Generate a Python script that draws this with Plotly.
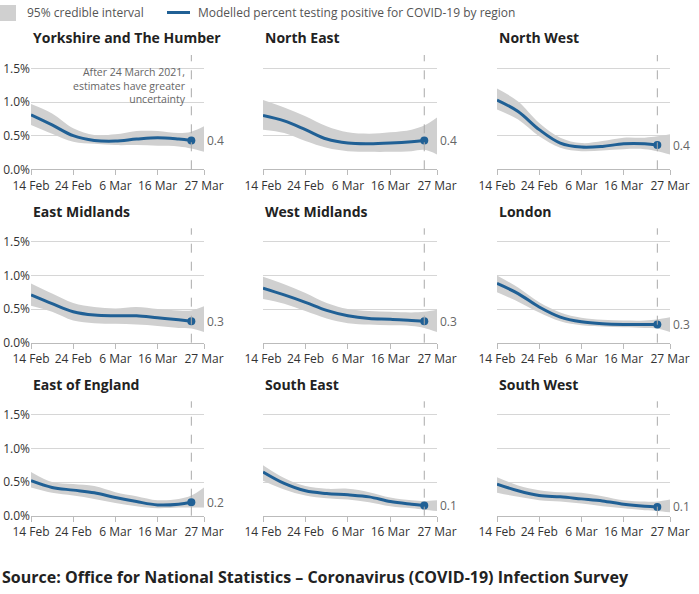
import plotly.graph_objects as go

W, H = 699, 594

dates = ["2021-02-14", "2021-02-19", "2021-02-24", "2021-03-01", "2021-03-06",
         "2021-03-11", "2021-03-16", "2021-03-21", "2021-03-24"]
band_dates = dates + ["2021-03-27"]
cutoff_date = "2021-03-24"
x_range = ["2021-02-14", "2021-03-27"]
x_tickvals = ["2021-02-14", "2021-02-24", "2021-03-06", "2021-03-16", "2021-03-27"]
x_ticktext = ["14 Feb", "24 Feb", "6 Mar", "16 Mar", "27 Mar"]
y_tickvals = [0, 0.5, 1.0, 1.5]
y_ticktext = ["0.0%", "0.5%", "1.0%", "1.5%"]

regions = ["Yorkshire and The Humber", "North East", "North West",
           "East Midlands", "West Midlands", "London",
           "East of England", "South East", "South West"]
end_labels = ["0.4", "0.4", "0.4", "0.3", "0.3", "0.3", "0.2", "0.1", "0.1"]
note_text = "After 24 March 2021,<br>estimates have greater<br>uncertainty"

yorkshire_line = [0.81, 0.66, 0.50, 0.43, 0.42, 0.45, 0.47, 0.45, 0.43]
yorkshire_upper = [0.97, 0.83, 0.61, 0.51, 0.52, 0.57, 0.57, 0.54, 0.56, 0.64]
yorkshire_lower = [0.66, 0.53, 0.41, 0.38, 0.36, 0.36, 0.35, 0.34, 0.31, 0.26]

north_east_line = [0.80, 0.72, 0.59, 0.45, 0.39, 0.38, 0.39, 0.41, 0.43]
north_east_upper = [1.03, 0.92, 0.79, 0.64, 0.55, 0.53, 0.55, 0.59, 0.65, 0.77]
north_east_lower = [0.59, 0.54, 0.42, 0.32, 0.27, 0.26, 0.26, 0.27, 0.29, 0.22]

north_west_line = [1.03, 0.86, 0.59, 0.39, 0.33, 0.34, 0.38, 0.38, 0.36]
north_west_upper = [1.20, 1.01, 0.69, 0.47, 0.39, 0.42, 0.47, 0.47, 0.49, 0.52]
north_west_lower = [0.89, 0.74, 0.49, 0.32, 0.27, 0.28, 0.30, 0.30, 0.27, 0.22]

east_midlands_line = [0.71, 0.58, 0.46, 0.41, 0.40, 0.40, 0.37, 0.34, 0.32]
east_midlands_upper = [0.88, 0.73, 0.59, 0.53, 0.51, 0.53, 0.50, 0.48, 0.48, 0.54]
east_midlands_lower = [0.55, 0.46, 0.33, 0.29, 0.28, 0.27, 0.25, 0.22, 0.21, 0.16]

west_midlands_line = [0.81, 0.71, 0.60, 0.48, 0.40, 0.36, 0.35, 0.33, 0.32]
west_midlands_upper = [0.98, 0.87, 0.74, 0.59, 0.50, 0.47, 0.46, 0.45, 0.46, 0.49]
west_midlands_lower = [0.65, 0.58, 0.47, 0.36, 0.29, 0.27, 0.26, 0.25, 0.22, 0.16]

london_line = [0.88, 0.73, 0.53, 0.38, 0.31, 0.28, 0.27, 0.27, 0.27]
london_upper = [1.00, 0.82, 0.60, 0.45, 0.37, 0.34, 0.33, 0.33, 0.35, 0.38]
london_lower = [0.75, 0.61, 0.45, 0.32, 0.26, 0.24, 0.23, 0.22, 0.21, 0.16]

east_of_england_line = [0.52, 0.42, 0.38, 0.34, 0.27, 0.21, 0.16, 0.17, 0.20]
east_of_england_upper = [0.65, 0.50, 0.47, 0.44, 0.35, 0.29, 0.23, 0.25, 0.30, 0.42]
east_of_england_lower = [0.42, 0.34, 0.30, 0.25, 0.19, 0.14, 0.11, 0.12, 0.12, 0.12]

south_east_line = [0.65, 0.48, 0.37, 0.33, 0.31, 0.28, 0.21, 0.17, 0.15]
south_east_upper = [0.75, 0.56, 0.44, 0.40, 0.40, 0.35, 0.27, 0.23, 0.22, 0.23]
south_east_lower = [0.52, 0.39, 0.30, 0.26, 0.24, 0.20, 0.14, 0.11, 0.09, 0.07]

south_west_line = [0.47, 0.37, 0.30, 0.28, 0.25, 0.22, 0.17, 0.14, 0.13]
south_west_upper = [0.57, 0.45, 0.38, 0.35, 0.34, 0.29, 0.23, 0.21, 0.21, 0.24]
south_west_lower = [0.34, 0.28, 0.23, 0.21, 0.18, 0.14, 0.11, 0.08, 0.07, 0.05]

series = [
    (yorkshire_line, yorkshire_upper, yorkshire_lower),
    (north_east_line, north_east_upper, north_east_lower),
    (north_west_line, north_west_upper, north_west_lower),
    (east_midlands_line, east_midlands_upper, east_midlands_lower),
    (west_midlands_line, west_midlands_upper, west_midlands_lower),
    (london_line, london_upper, london_lower),
    (east_of_england_line, east_of_england_upper, east_of_england_lower),
    (south_east_line, south_east_upper, south_east_lower),
    (south_west_line, south_west_upper, south_west_lower),
]

BLUE = "#206095"
BAND = "rgb(208,208,208)"
FONT = "Open Sans"

# layout geometry in pixels
col_px = [(31, 204), (263, 437), (497, 670)]
row_px = [(55, 169.3), (228.3, 342.7), (401.3, 515.7)]  # (top, bottom)
title_px = [37.7, 211, 384]

fig = go.Figure()
layout = dict(
    template="none",
    width=W, height=H, margin=dict(l=0, r=0, t=0, b=0, pad=0),
    paper_bgcolor="white", plot_bgcolor="white",
    showlegend=False, font=dict(family=FONT, size=12, color="#333"),
)
annotations = []
shapes = []

for i, (name, (line, upper, lower)) in enumerate(zip(regions, series)):
    r, c = divmod(i, 3)
    n = i + 1
    xa = "x" if n == 1 else f"x{n}"
    ya = "y" if n == 1 else f"y{n}"
    xkey = "xaxis" if n == 1 else f"xaxis{n}"
    ykey = "yaxis" if n == 1 else f"yaxis{n}"
    x0, x1 = col_px[c]
    top, bot = row_px[r]
    layout[xkey] = dict(
        domain=[x0 / W, x1 / W], anchor=ya, type="date", range=x_range,
        tickvals=x_tickvals, ticktext=x_ticktext, ticks="outside", ticklen=5,
        tickcolor="#bbbbbb", showline=True, linecolor="#bbbbbb", linewidth=1,
        showgrid=False, zeroline=False, tickfont=dict(size=12, color="#333"),
        fixedrange=True, automargin=False,
    )
    layout[ykey] = dict(
        domain=[1 - bot / H, 1 - top / H], anchor=xa, range=[0, 1.7],
        tickvals=y_tickvals, ticktext=y_ticktext, showticklabels=(c == 0),
        showgrid=True, gridcolor="#d6d6d6", gridwidth=1, zeroline=False,
        showline=False, ticks="", tickfont=dict(size=12, color="#333"),
        fixedrange=True, automargin=False,
    )
    fig.add_trace(go.Scatter(x=band_dates, y=lower, xaxis=xa, yaxis=ya,
                             mode="lines", line=dict(width=0, shape="spline", smoothing=1),
                             hoverinfo="skip"))
    fig.add_trace(go.Scatter(x=band_dates, y=upper, xaxis=xa, yaxis=ya,
                             mode="lines", line=dict(width=0, shape="spline", smoothing=1),
                             fill="tonexty", fillcolor=BAND, hoverinfo="skip"))
    fig.add_trace(go.Scatter(x=dates, y=line, xaxis=xa, yaxis=ya, mode="lines",
                             line=dict(color=BLUE, width=3, shape="spline", smoothing=1)))
    fig.add_trace(go.Scatter(x=[dates[-1]], y=[line[-1]], xaxis=xa, yaxis=ya,
                             mode="markers", marker=dict(color=BLUE, size=8)))
    shapes.append(dict(type="line", xref=xa, yref=f"{ya} domain",
                       x0=cutoff_date, x1=cutoff_date, y0=0, y1=1,
                       line=dict(color="#aaaaaa", width=1, dash="dash"), layer="above"))
    annotations.append(dict(xref="paper", yref="paper", x=x0 / W, y=1 - title_px[r] / H,
                            xanchor="left", yanchor="middle", showarrow=False,
                            text=f"<b>{name}</b>",
                            font=dict(family=FONT, size=14, color="#222")))
    annotations.append(dict(xref=xa, yref=ya, x=x_range[1], y=line[-1],
                            xanchor="left", yanchor="middle", xshift=1, showarrow=False,
                            text=end_labels[i], font=dict(size=12, color="#666")))
    if i == 0:
        annotations.append(dict(xref=xa, yref=ya, x=cutoff_date, y=1.253,
                                xanchor="right", yanchor="middle", xshift=-3,
                                showarrow=False, align="right", text=note_text,
                                font=dict(size=10.5, color="#666")))

# legend (manual)
shapes.append(dict(type="rect", xref="paper", yref="paper",
                   x0=0, x1=16 / W, y0=1 - 21 / H, y1=1 - 5 / H,
                   fillcolor=BAND, line=dict(width=0)))
shapes.append(dict(type="line", xref="paper", yref="paper",
                   x0=167 / W, x1=190 / W, y0=1 - 12.5 / H, y1=1 - 12.5 / H,
                   line=dict(color=BLUE, width=3)))
annotations.append(dict(xref="paper", yref="paper", x=25 / W, y=1 - 13 / H,
                        xanchor="left", yanchor="middle", showarrow=False,
                        text="95% credible interval", font=dict(size=12, color="#555")))
annotations.append(dict(xref="paper", yref="paper", x=196 / W, y=1 - 13 / H,
                        xanchor="left", yanchor="middle", showarrow=False,
                        text="Modelled percent testing positive for COVID-19 by region",
                        font=dict(size=12, color="#555")))
annotations.append(dict(xref="paper", yref="paper", x=0, y=1 - 577 / H,
                        xanchor="left", yanchor="middle", showarrow=False,
                        text="<b>Source: Office for National Statistics – Coronavirus (COVID-19) Infection Survey</b>",
                        font=dict(size=16, color="#222")))

layout["annotations"] = annotations
layout["shapes"] = shapes
fig.update_layout(**layout)
fig.write_html("out.html", config={"displayModeBar": False},
               post_script="document.body.style.margin='0';document.body.style.padding='0';")
